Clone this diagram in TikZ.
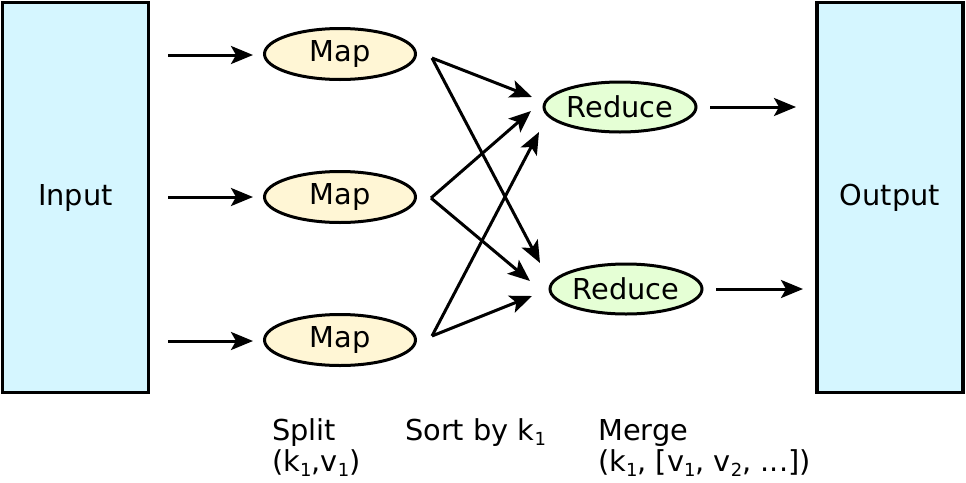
\documentclass[tikz,border=0pt]{standalone}
\usepackage{fontspec}
\setmainfont{DejaVu Sans}
\usetikzlibrary{shapes.geometric,arrows.meta}
\definecolor{boxfill}{HTML}{D5F6FF}
\definecolor{mapfill}{HTML}{FFF6D5}
\definecolor{redfill}{HTML}{E5FFD5}
\newcommand\lsub[1]{\raisebox{-0.35ex}{\fontsize{18}{18}\selectfont #1}}
\begin{document}
\begin{tikzpicture}[x=1pt,y=-1pt,
  every node/.style={font=\fontsize{28.8}{32}\selectfont},
  iobox/.style={draw, line width=3.5pt, fill=boxfill, minimum width=146pt, minimum height=390pt, inner sep=0pt},
  mapnode/.style={ellipse, draw, line width=3pt, fill=mapfill, minimum width=151pt, minimum height=51pt, inner sep=0pt},
  rednode/.style={ellipse, draw, line width=3pt, fill=redfill, minimum width=152pt, minimum height=50pt, inner sep=0pt},
  conn/.style={line width=3pt, -{Stealth[length=22pt,width=18pt,inset=5pt]}},
  lbl/.style={anchor=base west, inner sep=0pt}]
\useasboundingbox (0,0) rectangle (966,482);
\node[iobox] (input) at (75.5,197.5) {Input};
\node[iobox] (output) at (890,197.5) {Output};
\node[mapnode] (map1) at (340,54) {Map};
\node[mapnode] (map2) at (340,197) {Map};
\node[mapnode] (map3) at (340,340) {Map};
\node[rednode] (red1) at (620,107) {Reduce};
\node[rednode] (red2) at (626,289) {Reduce};
% left arrows
\coordinate (a1s) at (168,55); \coordinate (a1e) at (253,55);
\coordinate (a2s) at (168,197); \coordinate (a2e) at (253,197);
\coordinate (a3s) at (168,341); \coordinate (a3e) at (253,341);
\draw[conn] (a1s) -- (a1e);
\draw[conn] (a2s) -- (a2e);
\draw[conn] (a3s) -- (a3e);
% shuffle
\coordinate (m1) at (432,58);
\coordinate (m2) at (431,198);
\coordinate (m3) at (432,336);
\coordinate (r1a) at (532,97);
\coordinate (r1b) at (531,111);
\coordinate (r1c) at (539,132);
\coordinate (r2a) at (540,263);
\coordinate (r2b) at (530,281);
\coordinate (r2c) at (532,296);
\draw[conn] (m1) -- (r1a);
\draw[conn] (m1) -- (r2a);
\draw[conn] (m2) -- (r1b);
\draw[conn] (m2) -- (r2b);
\draw[conn] (m3) -- (r1c);
\draw[conn] (m3) -- (r2c);
% right arrows
\coordinate (o1s) at (710,107); \coordinate (o1e) at (796,107);
\coordinate (o2s) at (716,289); \coordinate (o2e) at (803,289);
\draw[conn] (o1s) -- (o1e);
\draw[conn] (o2s) -- (o2e);
% labels
\node[lbl] (split1) at (272,440) {Split};
\node[lbl] (split2) at (272,471) {(k\lsub{1},v\lsub{1})};
\node[lbl] (sort1) at (405,440) {Sort by k\lsub{1}};
\node[lbl] (merge1) at (598,440) {Merge};
\node[lbl] (merge2) at (598,471) {(k\lsub{1}, [v\lsub{1}, v\lsub{2}, ...])};
\end{tikzpicture}
\end{document}
